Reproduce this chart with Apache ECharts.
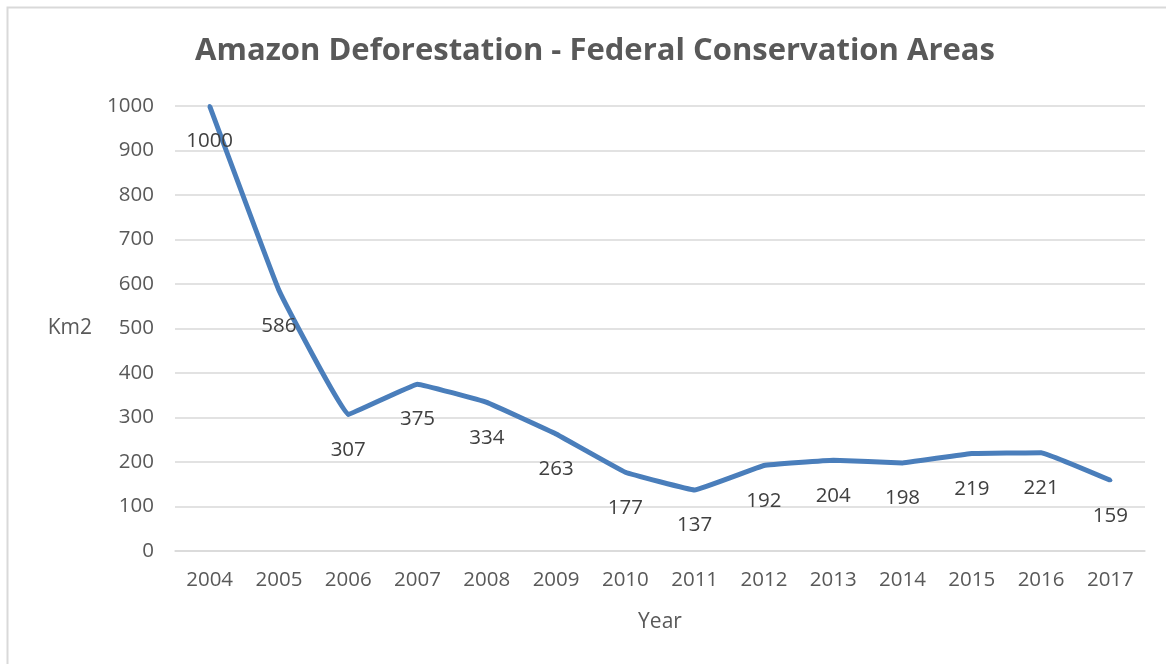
<!DOCTYPE html>
<html>
<head>
<meta charset="utf-8">
<script src="https://cdn.jsdelivr.net/npm/echarts@6/dist/echarts.min.js"></script>
<style>
html,body{margin:0;padding:0;background:#fff;}
#chart{width:1166px;height:664px;}
</style>
</head>
<body>
<div id="chart"></div>
<script>
const titleText = 'Amazon Deforestation - Federal Conservation Areas';
const years = ['2004','2005','2006','2007','2008','2009','2010','2011','2012','2013','2014','2015','2016','2017'];
const deforestationKm2 = [1000,586,307,375,334,263,177,137,192,204,198,219,221,159];
const yAxisName = 'Km2';
const xAxisName = 'Year';

const chart = echarts.init(document.getElementById('chart'), null, {renderer:'canvas'});
const font = '"Open Sans", Lato, sans-serif';
const grey = '#595959';
chart.setOption({
  animation: false,
  textStyle: {fontFamily: font},
  graphic: [{
    type: 'polyline',
    shape: {points: [[7.5, 664], [7.5, 7.5], [1166, 7.5]]},
    style: {stroke: '#d9d9d9', lineWidth: 2, fill: null},
    silent: true
  }],
  title: {
    text: titleText,
    left: 590, top: 31, textAlign: 'center',
    textStyle: {fontFamily: font, fontSize: 31, fontWeight: 'bold', color: grey}
  },
  grid: {left: 175, right: 21, top: 106, bottom: 113, containLabel: false},
  xAxis: {
    type: 'category',
    data: years,
    boundaryGap: true,
    name: xAxisName,
    nameLocation: 'middle',
    nameGap: 61,
    nameTextStyle: {fontSize: 21, color: grey, fontFamily: font},
    axisLine: {show: true, lineStyle: {color: '#d9d9d9', width: 1.5}},
    axisTick: {show: false},
    axisLabel: {fontSize: 20.5, color: grey, margin: 19, fontFamily: font}
  },
  yAxis: {
    type: 'value',
    min: 0, max: 1000, interval: 100,
    name: yAxisName,
    nameLocation: 'middle',
    nameRotate: 0,
    nameGap: 83,
    nameTextStyle: {fontSize: 21, color: grey, fontFamily: font},
    axisLine: {show: false},
    axisTick: {show: false},
    axisLabel: {fontSize: 20.5, color: grey, margin: 21, fontFamily: font, formatter: v => String(v)},
    splitLine: {lineStyle: {color: '#d9d9d9', width: 1.5}}
  },
  series: [{
    type: 'line',
    data: deforestationKm2,
    smooth: 0.06,
    symbol: 'circle',
    symbolSize: 4,
    showSymbol: true,
    itemStyle: {color: '#4a7ebb'},
    lineStyle: {color: '#4a7ebb', width: 5},
    label: {
      show: true, position: 'bottom', distance: 23,
      fontSize: 20.5, color: '#404040', fontFamily: font,
      formatter: p => String(p.value)
    }
  }]
});
</script>
</body>
</html>
